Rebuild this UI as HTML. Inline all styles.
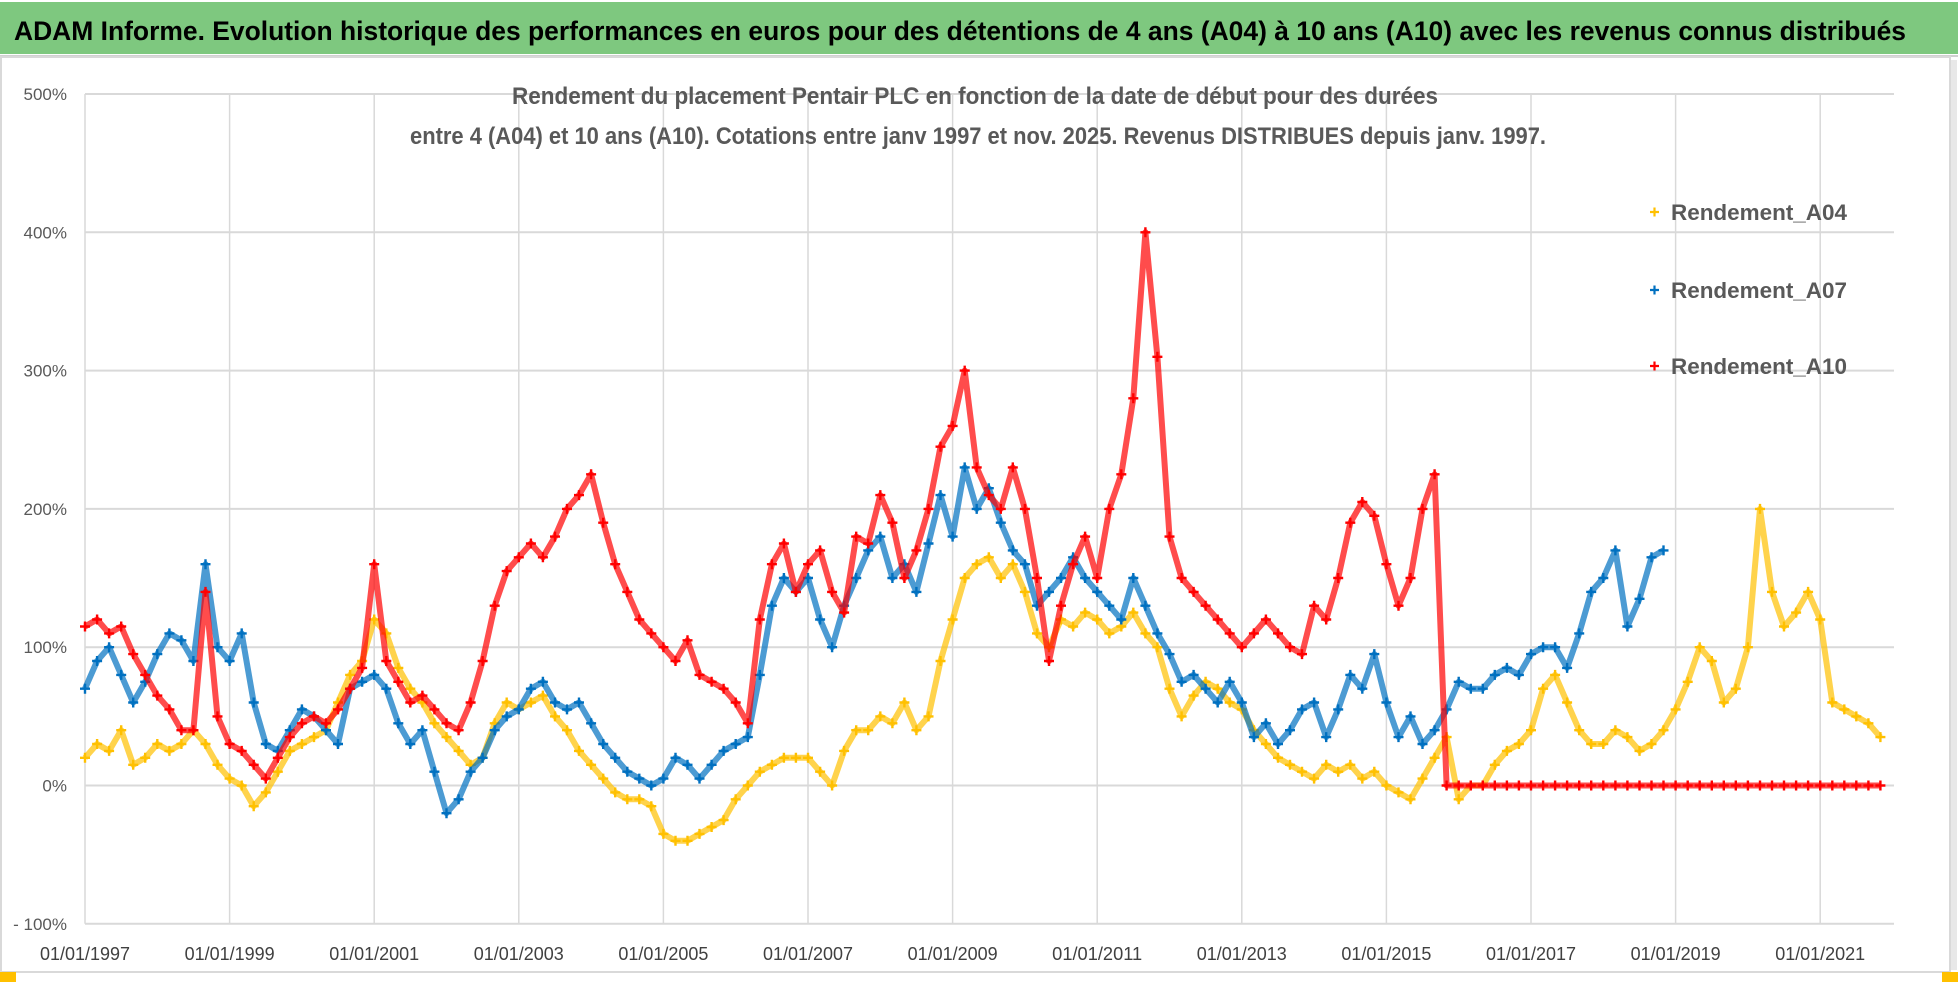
<!DOCTYPE html>
<html><head><meta charset="utf-8">
<style>
html,body{margin:0;padding:0;background:#fff;width:1958px;height:985px;overflow:hidden}
svg{display:block;font-family:"Liberation Sans Narrow","Liberation Sans",sans-serif}
</style></head>
<body>
<svg id="chart" width="1958" height="985" viewBox="0 0 1958 985" xmlns="http://www.w3.org/2000/svg">
  <rect x="0" y="0" width="1958" height="985" fill="#fff"/>
  <rect x="0" y="2" width="1958" height="52" fill="#7ec87f"/>
  <line x1="0" y1="56" x2="1958" y2="56" stroke="#d0d0d0" stroke-width="2"/>
  <text x="14" y="40" font-size="27" font-weight="bold" fill="#000" textLength="1892" lengthAdjust="spacingAndGlyphs">ADAM Informe. Evolution historique des performances en euros pour des détentions de 4 ans (A04) à 10 ans (A10) avec les revenus connus distribués</text>
  <rect x="1" y="57" width="1949" height="915" fill="none" stroke="#d9d9d9" stroke-width="2"/>
  <rect x="1951" y="60" width="6" height="910" fill="#e8e8e8"/>
  <rect x="0" y="972" width="16" height="10" fill="#ffc000"/>
  <rect x="1942" y="972" width="16" height="10" fill="#ffc000"/>
  <g id="grid"></g>
  <g id="yaxis"></g>
  <g id="xaxis"></g>
  <g id="series"></g>
  <text x="975" y="104" font-size="24" font-weight="bold" fill="#595959" text-anchor="middle" textLength="926" lengthAdjust="spacingAndGlyphs">Rendement du placement Pentair PLC en fonction de la date de début pour des durées</text>
  <text x="978" y="144" font-size="24" font-weight="bold" fill="#595959" text-anchor="middle" textLength="1136" lengthAdjust="spacingAndGlyphs">entre 4 (A04) et 10 ans (A10).  Cotations entre janv 1997 et nov. 2025. Revenus DISTRIBUES depuis janv. 1997.</text>
  <g id="legend"></g>
</svg>
<script>
// ---- data (values in %, sampled every 2 months) ----
const startYear = 1997;
const stepYear = 1/6;
const yTicks = [500,400,300,200,100,0,-100];
const yTickLabels = ["500%","400%","300%","200%","100%","0%","- 100%"];
const xTickYears = [1997,1999,2001,2003,2005,2007,2009,2011,2013,2015,2017,2019,2021];
const xTickLabels = ["01/01/1997","01/01/1999","01/01/2001","01/01/2003","01/01/2005","01/01/2007","01/01/2009","01/01/2011","01/01/2013","01/01/2015","01/01/2017","01/01/2019","01/01/2021"];
const seriesNames = ["Rendement_A04","Rendement_A07","Rendement_A10"];
const a04 = [
20,30,25,40,15,20, 30,25,30,40,30,15, 5,0,-15,-5,10,25, 30,35,40,60,80,90,
120,110,85,70,60,45, 35,25,15,20,45,60, 55,60,65,50,40,25, 15,5,-5,-10,-10,-15,
-35,-40,-40,-35,-30,-25, -10,0,10,15,20,20, 20,10,0,25,40,40, 50,45,60,40,50,90,
120,150,160,165,150,160, 140,110,100,120,115,125, 120,110,115,125,110,100, 70,50,65,75,70,60,
55,40,30,20,15,10, 5,15,10,15,5,10, 0,-5,-10,5,20,35, -10,0,0,15,25,30,
40,70,80,60,40,30, 30,40,35,25,30,40, 55,75,100,90,60,70, 100,200,140,115,125,140,
120,60,55,50,45,35];
const a07 = [
70,90,100,80,60,75, 95,110,105,90,160,100, 90,110,60,30,25,40, 55,50,40,30,70,75,
80,70,45,30,40,10, -20,-10,10,20,40,50, 55,70,75,60,55,60, 45,30,20,10,5,0,
5,20,15,5,15,25, 30,35,80,130,150,140, 150,120,100,130,150,170, 180,150,160,140,175,210,
180,230,200,215,190,170, 160,130,140,150,165,150, 140,130,120,150,130,110, 95,75,80,70,60,75,
60,35,45,30,40,55, 60,35,55,80,70,95, 60,35,50,30,40,55, 75,70,70,80,85,80,
95,100,100,85,110,140, 150,170,115,135,165,170];
const a10 = [
115,120,110,115,95,80, 65,55,40,40,140,50, 30,25,15,5,20,35, 45,50,45,55,70,85,
160,90,75,60,65,55, 45,40,60,90,130,155, 165,175,165,180,200,210, 225,190,160,140,120,110,
100,90,105,80,75,70, 60,45,120,160,175,140, 160,170,140,125,180,175, 210,190,150,170,200,245,
260,300,230,210,200,230, 200,150,90,130,160,180, 150,200,225,280,400,310, 180,150,140,130,120,110,
100,110,120,110,100,95, 130,120,150,190,205,195, 160,130,150,200,225,0,
0,0,0,0,0,0, 0,0,0,0,0,0, 0,0,0,0,0,0, 0,0,0,0,0,0, 0,0,0,0,0,0, 0,0,0,0,0,0];
const seriesData = [a04, a07, a10];
const seriesColors = ["#ffc000","#0070c0","#ff0000"];

// ---- axes ----
const X0 = 85, PX_PER_YEAR = 72.3;
const Y0 = 785.5, PX_PER_PCT = 1.383;
function xScale(year){ return X0 + (year - startYear) * PX_PER_YEAR; }
function yScale(v){ return Y0 - v * PX_PER_PCT; }
const NS = "http://www.w3.org/2000/svg";
function mk(tag, attrs, parent){ const e=document.createElementNS(NS,tag); for(const k in attrs) e.setAttribute(k,attrs[k]); parent.appendChild(e); return e; }

const grid = document.getElementById('grid');
const yaxis = document.getElementById('yaxis');
const xaxis = document.getElementById('xaxis');
const plotRight = 1894;
yTicks.forEach((v,i)=>{
  const y = yScale(v);
  const l = mk('line',{x1:X0,x2:plotRight,y1:y,y2:y,stroke:'#d9d9d9','stroke-width':2},grid);
  
  
  const t = mk('text',{x:67,y:y+6,'font-size':17,fill:'#595959','text-anchor':'end'},yaxis);
  t.textContent = yTickLabels[i];
  
  
});
xTickYears.forEach((yr,i)=>{
  const x = xScale(yr);
  const l = mk('line',{x1:x,x2:x,y1:yScale(500),y2:yScale(-100),stroke:'#d9d9d9','stroke-width':1.5},grid);
  
  
  const t = mk('text',{x:x,y:960,'font-size':18,fill:'#404040','text-anchor':'middle',textLength:90,lengthAdjust:'spacingAndGlyphs'},xaxis);
  t.textContent = xTickLabels[i];
  
  
});

// ---- series ----
const seriesLayer = document.getElementById('series');
seriesData.forEach((arr,si)=>{
  const g = mk('g',{},seriesLayer);
  
  
  const pts = arr.map((v,i)=>[xScale(startYear+i*stepYear), yScale(v)]);
  const pl = mk('polyline',{points:pts.map(p=>p[0].toFixed(1)+','+p[1].toFixed(1)).join(' '),fill:'none',stroke:seriesColors[si],'stroke-width':6,'stroke-linejoin':'round','stroke-opacity':0.7},g);
  
  
  let d='';
  pts.forEach(p=>{ d+=`M${(p[0]-5).toFixed(1)} ${p[1].toFixed(1)}h10M${p[0].toFixed(1)} ${(p[1]-5).toFixed(1)}v10`; });
  const m = mk('path',{d:d,stroke:seriesColors[si],'stroke-width':2.4,fill:'none'},g);
  
  
});

// ---- legend ----
const legend = document.getElementById('legend');
const legendY = [212,290,366];
seriesNames.forEach((n,i)=>{
  const y = legendY[i];
  const mkr = mk('path',{d:`M1650 ${y}h9M1654.5 ${y-4.5}v9`,stroke:seriesColors[i],'stroke-width':2.2},legend);
  
  
  const t = mk('text',{x:1671,y:y+8,'font-size':22,'font-weight':'bold',fill:'#595959',textLength:176,lengthAdjust:'spacingAndGlyphs'},legend);
  t.textContent = n;
  
  
});
</script>
</body></html>
